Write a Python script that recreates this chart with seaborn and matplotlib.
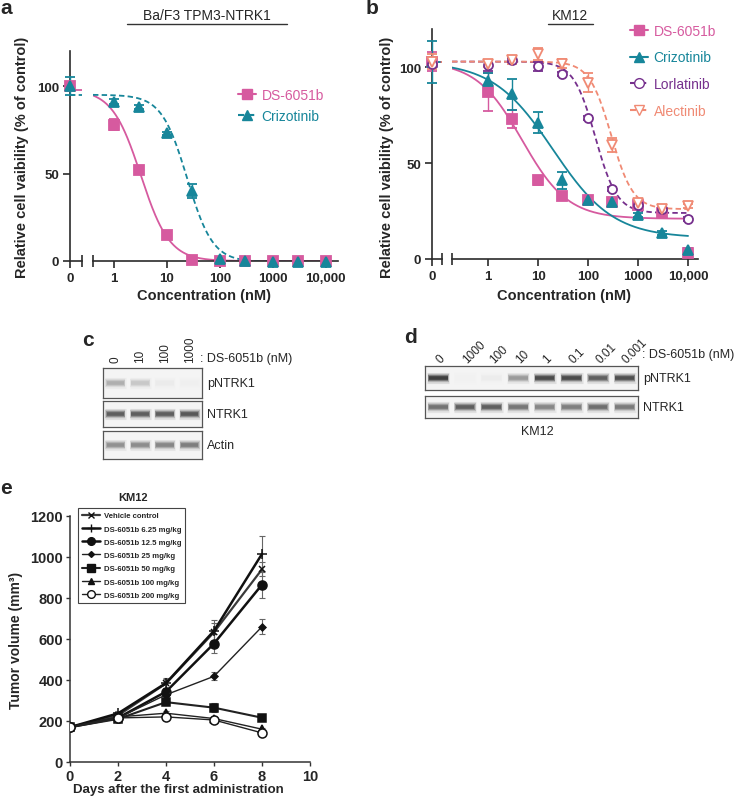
import numpy as np
import matplotlib
matplotlib.use("Agg")
import matplotlib.pyplot as plt
from matplotlib.lines import Line2D
from matplotlib.ticker import NullFormatter
import seaborn as sns

# ---------------- data ----------------
conc = [1, 3, 10, 30, 100, 300, 1000, 3000, 10000]
conc_ticks = [1, 10, 100, 1000, 10000]
conc_ticklabels = ["1", "10", "100", "1000", "10,000"]

# a: Ba/F3 TPM3-NTRK1, % of control; [mean, error] at 0 nM kept apart
a_ds_zero = [100, 2]
a_ds = [78, 52, 15, 0.5, 0, 0, 0, 0, 0]
a_ds_err = [3, 1.5, 1, 0.5, 0.3, 0.3, 0.3, 0.3, 0.3]
a_cz_zero = [100, 5]
a_cz = [91, 88, 73, 40, 1, 0, -0.5, -0.5, -0.5]
a_cz_err = [1.5, 1, 1, 4, 0.5, 0.3, 0.3, 0.3, 0.3]
# fitted curves: top, bottom, IC50 (nM), hill slope
a_ds_fit = [98, 0, 3.2, 1.6]
a_cz_fit = [95, -0.5, 24, 1.8]

# b: KM12
b_ds_zero = [103, 5]
b_ds = [87, 73, 41, 33, 31, 30, 28, 24, 3]
b_ds_err = [10, 4.5, 2.5, 1, 2, 1, 1, 1, 1]
b_cz_zero = [103, 11]
b_cz = [93, 86, 71, 41, 31, 29.5, 23, 13.5, 4.5]
b_cz_err = [4, 8, 5.5, 4.5, 1.5, 1, 1, 1, 1]
b_lo_zero = [102, 1]
b_lo = [101, 104, 100.5, 96.5, 73.5, 36.5, 28, 26, 21]
b_lo_err = [3, 1, 2.5, 1, 1, 1, 1, 1, 1]
b_al_zero = [103, 4]
b_al = [102, 104, 107, 102, 92, 59.5, 29, 26, 27.5]
b_al_err = [2, 2, 3, 2.5, 5, 3.5, 1, 1, 1]
b_ds_fit = [103, 21, 4.8, 0.95]
b_cz_fit = [103, 11, 20, 0.72]
b_lo_fit = [103, 24, 140, 2.0]
b_al_fit = [103, 26, 290, 2.0]

# c, d: western blots, relative band intensity per lane
c_lanes = ["0", "10", "100", "1000"]
c_pntrk1 = [0.42, 0.3, 0.07, 0.04]
c_ntrk1 = [0.8, 0.8, 0.8, 0.83]
c_actin = [0.55, 0.57, 0.6, 0.65]
d_lanes = ["0", "1000", "100", "10", "1", "0.1", "0.01", "0.001"]
d_pntrk1 = [0.92, 0.02, 0.06, 0.5, 0.88, 0.88, 0.8, 0.86]
d_ntrk1 = [0.7, 0.8, 0.8, 0.68, 0.6, 0.64, 0.72, 0.66]

# e: KM12 xenograft, tumor volume (mm3)
days = [0, 2, 4, 6, 8]
e_names = ["Vehicle control", "DS-6051b 6.25 mg/kg", "DS-6051b 12.5 mg/kg",
           "DS-6051b 25 mg/kg", "DS-6051b 50 mg/kg", "DS-6051b 100 mg/kg",
           "DS-6051b 200 mg/kg"]
e_vehicle = [170, 227, 383, 633, 940]
e_vehicle_err = [5, 10, 20, 45, 35]
e_625 = [170, 237, 385, 640, 1015]
e_625_err = [5, 10, 25, 55, 88]
e_125 = [170, 215, 343, 578, 865]
e_125_err = [5, 8, 15, 48, 65]
e_25 = [170, 215, 328, 418, 660]
e_25_err = [5, 8, 12, 20, 38]
e_50 = [170, 210, 292, 265, 216]
e_50_err = [5, 8, 15, 22, 15]
e_100 = [170, 220, 238, 212, 160]
e_100_err = [5, 8, 10, 10, 8]
e_200 = [170, 215, 220, 205, 142]
e_200_err = [5, 8, 10, 10, 8]

PINK = "#d65a9f"
TEAL = "#17869a"
PURPLE = "#76308d"
SALMON = "#f08a74"
DASH = (0, (3, 1.8))

sns.set_style("ticks")
plt.rcParams["font.family"] = ["Liberation Sans", "DejaVu Sans"]

W, H = 735, 804
fig = plt.figure(figsize=(W / 100, H / 100), dpi=100)


def box(x0, y0, x1, y1):
    # pixel box (top-left origin) -> figure fraction rect
    return [x0 / W, 1 - y1 / H, (x1 - x0) / W, (y1 - y0) / H]


def fx(x):
    return x / W


def fy(y):
    return 1 - y / H


def hill(x, top, bottom, ic50, slope):
    return bottom + (top - bottom) / (1 + (x / ic50) ** slope)


def bold_ticks(ax, size):
    ax.tick_params(labelsize=size)
    for lbl in ax.get_xticklabels() + ax.get_yticklabels():
        lbl.set_fontweight("bold")


def no_clip(container):
    for art in container.get_children():
        art.set_clip_on(False)


def dose_panel(zero_px, log_px, ypx, xlim, series):
    ax0 = fig.add_axes(box(zero_px[0], ypx[0], zero_px[1], ypx[1]))
    ax1 = fig.add_axes(box(log_px[0], ypx[0], log_px[1], ypx[1]), sharey=ax0)
    for zero, vals, errs, fit, color, marker, mfc, ls in series:
        xs = np.logspace(np.log10(xlim[0]), np.log10(conc[-1]), 300)
        sns.lineplot(x=xs, y=hill(xs, *fit), ax=ax1, color=color,
                     linestyle=ls, lw=1.3)
        ax0.axhline(fit[0], color=color, ls=ls, lw=1.3)
        kw = dict(fmt=marker, color=color, mfc=mfc, mec=color, ms=6.5,
                  mew=1.3, capsize=3.5, elinewidth=1, capthick=1, zorder=3)
        no_clip(ax1.errorbar(conc, vals, yerr=errs, **kw))
        no_clip(ax0.errorbar([0], [zero[0]], yerr=[zero[1]], **kw))

    ax0.set_ylim(0, 120)
    ax0.set_yticks([0, 50, 100])
    ax0.set_xlim(0, 1)
    ax0.set_xticks([0], ["0"])
    ax0.set_xticks([1], minor=True)
    for s in ["top", "right"]:
        ax0.spines[s].set_visible(False)
    ax1.set_xscale("log")
    ax1.set_xlim(*xlim)
    ax1.set_xticks(conc_ticks, conc_ticklabels)
    ax1.set_xticks([xlim[0]], minor=True)
    ax1.xaxis.set_minor_formatter(NullFormatter())
    for s in ["top", "right", "left"]:
        ax1.spines[s].set_visible(False)
    ax1.tick_params(axis="y", left=False, labelleft=False)
    for ax in (ax0, ax1):
        ax.set_facecolor("none")
        ax.set_xlabel("")
        ax.set_ylabel("")
        for s in ax.spines.values():
            s.set_linewidth(1.2)
            s.set_color("#2b2b2b")
        ax.tick_params(which="major", direction="out", length=5, width=1.2,
                       color="#2b2b2b", pad=3)
        ax.tick_params(axis="x", which="minor", direction="inout", length=9,
                       width=1.2, color="#2b2b2b")
        bold_ticks(ax, 9.5)
    return ax0, ax1


# ---------------- a ----------------
a0, a1 = dose_panel((70, 82), (93, 338), (52, 262), (0.4, 17000), [
    (a_ds_zero, a_ds, a_ds_err, a_ds_fit, PINK, "s", PINK, "-"),
    (a_cz_zero, a_cz, a_cz_err, a_cz_fit, TEAL, "^", TEAL, DASH),
])
a0.set_ylabel("Relative cell vaibility (% of control)", fontsize=10.5,
              fontweight="bold")
a0.yaxis.set_label_coords(fx(29), fy(157), transform=fig.transFigure)
a1.set_xlabel("Concentration (nM)", fontsize=10.5, fontweight="bold")
a1.xaxis.set_label_coords(fx(204), fy(289), transform=fig.transFigure)
a_handles = [Line2D([], [], color=PINK, marker="s", ms=6.5, ls="-"),
             Line2D([], [], color=TEAL, marker="^", ms=6.5, ls=DASH)]
a1.legend(a_handles, ["DS-6051b", "Crizotinib"], loc="upper left",
          bbox_to_anchor=(fx(238), fy(89)), bbox_transform=fig.transFigure,
          frameon=False, fontsize=10, handlelength=1.3, handletextpad=0.4,
          labelspacing=0.5, borderpad=0, borderaxespad=0,
          labelcolor=[PINK, TEAL])
fig.text(fx(207), fy(16), "Ba/F3 TPM3-NTRK1", ha="center", va="center",
         fontsize=10)
fig.add_artist(Line2D([fx(127), fx(287)], [fy(25), fy(25)],
                      transform=fig.transFigure, color="#333", lw=1))

# ---------------- b ----------------
b0, b1 = dose_panel((432, 442), (452, 698), (30, 260), (0.19, 15800), [
    (b_ds_zero, b_ds, b_ds_err, b_ds_fit, PINK, "s", PINK, "-"),
    (b_cz_zero, b_cz, b_cz_err, b_cz_fit, TEAL, "^", TEAL, "-"),
    (b_lo_zero, b_lo, b_lo_err, b_lo_fit, PURPLE, "o", "white", DASH),
    (b_al_zero, b_al, b_al_err, b_al_fit, SALMON, "v", "white", DASH),
])
b0.set_ylabel("Relative cell vaibility (% of control)", fontsize=10.5,
              fontweight="bold")
b0.yaxis.set_label_coords(fx(394), fy(157), transform=fig.transFigure)
b1.set_xlabel("Concentration (nM)", fontsize=10.5, fontweight="bold")
b1.xaxis.set_label_coords(fx(564), fy(289), transform=fig.transFigure)
b_handles = [Line2D([], [], color=PINK, marker="s", ms=6.5, ls="-"),
             Line2D([], [], color=TEAL, marker="^", ms=6.5, ls="-"),
             Line2D([], [], color=PURPLE, marker="o", mfc="white", ms=7,
                    ls=DASH),
             Line2D([], [], color=SALMON, marker="v", mfc="white", ms=7,
                    ls=DASH)]
b1.legend(b_handles, ["DS-6051b", "Crizotinib", "Lorlatinib", "Alectinib"],
          loc="upper left", bbox_to_anchor=(fx(630), fy(25)),
          bbox_transform=fig.transFigure, frameon=False, fontsize=10,
          handlelength=1.3, handletextpad=0.4, labelspacing=0.9,
          borderpad=0, borderaxespad=0,
          labelcolor=[PINK, TEAL, PURPLE, SALMON])
fig.text(fx(570), fy(16), "KM12", ha="center", va="center", fontsize=10)
fig.add_artist(Line2D([fx(548), fx(593)], [fy(25), fy(25)],
                      transform=fig.transFigure, color="#333", lw=1))


# ---------------- c, d: blots ----------------
def draw_blot(rect, bands, name, lanes=None, rot=90):
    ax = fig.add_axes(box(*rect))
    n = len(bands)
    ax.set_xlim(-0.5, n - 0.5)
    ax.set_ylim(0, 1)
    ax.set_facecolor("#f4f4f4")
    # soft bands: several overlaid strokes from wide/faint to narrow/dark
    for i, v in enumerate(bands):
        col = plt.cm.Greys(0.1 + 0.8 * v)
        for lw, alpha, half in [(8, 0.12, 0.42), (6, 0.25, 0.4),
                                (4.2, 0.45, 0.38), (2.6, 0.8, 0.35)]:
            ax.hlines(0.5, i - half, i + half, color=col, lw=lw, alpha=alpha,
                      capstyle="butt")
    ax.set_yticks([])
    if lanes is None:
        ax.set_xticks([])
    else:
        ax.xaxis.tick_top()
        if rot == 90:
            ax.set_xticks(range(n), lanes, rotation=90, ha="center",
                          va="bottom")
        else:
            ax.set_xticks(range(n), lanes, rotation=rot, ha="left",
                          va="center", rotation_mode="anchor")
        ax.tick_params(axis="x", length=0, pad=4, labelsize=8.5)
    for s in ax.spines.values():
        s.set_linewidth(0.9)
        s.set_color("#555")
    ax.text(1 + 5 / (rect[2] - rect[0]), 0.5, name, transform=ax.transAxes,
            va="center", ha="left", fontsize=9)
    return ax


draw_blot((103, 369, 202, 399), c_pntrk1, "pNTRK1", c_lanes, 90)
draw_blot((103, 402, 202, 428), c_ntrk1, "NTRK1")
draw_blot((103, 432, 202, 460), c_actin, "Actin")
fig.text(fx(200), fy(359), ": DS-6051b (nM)", ha="left", va="center",
         fontsize=9)

draw_blot((425, 367, 638, 391), d_pntrk1, "pNTRK1", d_lanes, 45)
draw_blot((425, 397, 638, 419), d_ntrk1, "NTRK1")
fig.text(fx(642), fy(355), ": DS-6051b (nM)", ha="left", va="center",
         fontsize=9)
fig.text(fx(537), fy(432), "KM12", ha="center", va="center", fontsize=9)

# ---------------- e ----------------
ax_e = fig.add_axes(box(70, 517, 310, 763))
e_series = [
    (e_vehicle, e_vehicle_err, "x", 5, "#333", 1.6, "#3a3a3a"),
    (e_625, e_625_err, "+", 7, "#111", 1.8, "#111"),
    (e_125, e_125_err, "o", 6.5, "#111", 1.8, "#111"),
    (e_25, e_25_err, "D", 3.5, "#111", 1.0, "#222"),
    (e_50, e_50_err, "s", 6, "#111", 1.5, "#222"),
    (e_100, e_100_err, "^", 5.5, "#111", 1.0, "#222"),
    (e_200, e_200_err, "o", 6.5, "white", 1.0, "#222"),
]
e_handles = []
for name, (vals, errs, marker, ms, mfc, lw, color) in zip(e_names, e_series):
    ax_e.errorbar(days, vals, yerr=errs, fmt="none", ecolor="#666",
                  capsize=2.5, elinewidth=0.8, capthick=0.8, zorder=2)
    sns.lineplot(x=days, y=vals, ax=ax_e, color=color, lw=lw, marker=marker,
                 ms=ms, mfc=mfc, mec="#111", mew=1.1, zorder=3)
    e_handles.append(Line2D([], [], color=color, lw=lw, marker=marker,
                            ms=ms * 0.85, mfc=mfc, mec="#111", mew=1.0))
ax_e.set_xlim(0, 10)
ax_e.set_ylim(0, 1200)
ax_e.set_xticks(range(0, 11, 2))
ax_e.set_yticks(range(0, 1201, 200))
for s in ["top", "right"]:
    ax_e.spines[s].set_visible(False)
for s in ["left", "bottom"]:
    ax_e.spines[s].set_linewidth(1.1)
    ax_e.spines[s].set_color("#333")
ax_e.tick_params(direction="out", length=3, width=1, color="#333", pad=2)
bold_ticks(ax_e, 10.5)
ax_e.set_ylabel("Tumor volume (mm³)", fontsize=10, fontweight="bold")
ax_e.yaxis.set_label_coords(fx(23), fy(640), transform=fig.transFigure)
ax_e.set_xlabel("Days after the first administration", fontsize=9.5,
                fontweight="bold")
ax_e.xaxis.set_label_coords(fx(178), fy(784), transform=fig.transFigure)
leg = ax_e.legend(e_handles, e_names, loc="upper left",
                  bbox_to_anchor=(fx(78), fy(509)),
                  bbox_transform=fig.transFigure, fancybox=False,
                  prop={"weight": "bold", "size": 5.6}, handlelength=2.3,
                  handletextpad=0.5, labelspacing=0.75, borderpad=0.5,
                  borderaxespad=0, framealpha=1)
leg.get_frame().set_edgecolor("#444")
leg.get_frame().set_linewidth(0.8)
fig.text(fx(133), fy(498), "KM12", ha="center", va="center", fontsize=8,
         fontweight="bold")

# panel letters
for letter, x, y in [("a", 0, 9), ("b", 366, 9), ("c", 82, 341),
                     ("d", 404, 338), ("e", 0, 489)]:
    fig.text(fx(x), fy(y), letter, ha="left", va="center", fontsize=15,
             fontweight="bold")

fig.savefig("out.png", dpi=100)
